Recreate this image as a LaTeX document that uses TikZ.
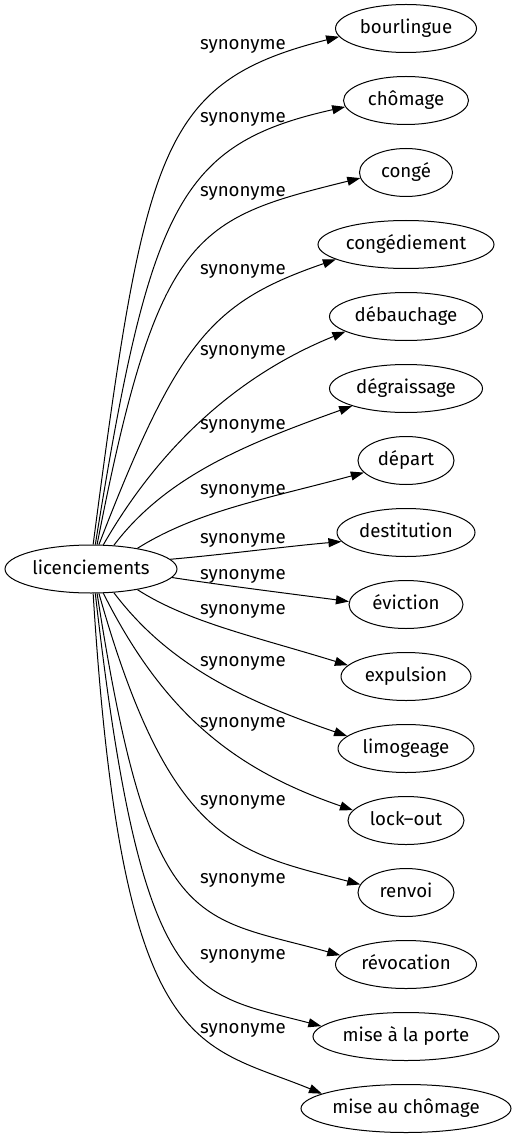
\documentclass[tikz,border=0pt]{standalone}
\usepackage{fontspec}
\setmainfont{Fira Sans}
\usetikzlibrary{shapes.geometric,arrows.meta}
\begin{document}
\begin{tikzpicture}[x=1pt,y=-1pt,
  ell/.style={draw,ellipse,line width=1pt,minimum height=48pt,inner sep=0pt,
    font=\fontsize{18.67pt}{22pt}\selectfont,text height=14pt,text depth=4pt},
  lbl/.style={inner sep=0pt,font=\fontsize{18.67pt}{22pt}\selectfont,text height=14pt,text depth=4pt},
  edge/.style={line width=1pt,-{Triangle[length=13pt,width=9pt]}}]
\useasboundingbox (0,0) rectangle (517,1139);
\node[ell,minimum width=172pt] (lic) at (91,569) {licenciements};
\node[ell,minimum width=141pt] (t1) at (406,28.5) {bourlingue};
\node[ell,minimum width=125pt] (t2) at (406,100.5) {chômage};
\node[ell,minimum width=93pt] (t3) at (406,172.5) {congé};
\node[ell,minimum width=176pt] (t4) at (406,244.5) {congédiement};
\node[ell,minimum width=153pt] (t5) at (406,316.5) {débauchage};
\node[ell,minimum width=153pt] (t6) at (406,388.5) {dégraissage};
\node[ell,minimum width=96pt] (t7) at (406,460.5) {départ};
\node[ell,minimum width=138pt] (t8) at (406,532.5) {destitution};
\node[ell,minimum width=114pt] (t9) at (406,604.5) {éviction};
\node[ell,minimum width=130pt] (t10) at (406,676.5) {expulsion};
\node[ell,minimum width=136pt] (t11) at (406,748.5) {limogeage};
\node[ell,minimum width=116pt] (t12) at (406,820.5) {lock–out};
\node[ell,minimum width=96pt] (t13) at (406,892.5) {renvoi};
\node[ell,minimum width=141pt] (t14) at (406,964.5) {révocation};
\node[ell,minimum width=186pt] (t15) at (406,1036.5) {mise à la porte};
\node[ell,minimum width=210pt] (t16) at (406,1108.5) {mise au chômage};
\foreach \i/\y in {1/45,2/118,3/192,4/270,5/350,6/424,7/489,8/538,9/574,10/609,11/661,12/722,13/800,14/878,15/954,16/1028}
  \node[lbl] (l\i) at (243,\y) {synonyme};
\draw[edge] (lic.85) .. controls (145,148) and (160,82) .. (t1.187);
\draw[edge] (lic.80) .. controls (150,205) and (179,144) .. (t2.186);
\draw[edge] (lic.76) .. controls (158,231) and (195,219) .. (t3.187);
\draw[edge] (lic.72) .. controls (178,340) and (212,302) .. (t4.192);
\draw[edge] (lic.63) .. controls (163,441) and (243,373) .. (t5.194);
\draw[edge] (lic.46) .. controls (167,475) and (249,443) .. (t6.198);
\draw[edge] (lic.24) .. controls (197,511) and (266,499) .. (t7.196);
\draw[edge] (lic.7) .. controls (220,555) and (290,546) .. (t8.188);
\draw[edge] (lic.-6) .. controls (220,585) and (300,595) .. (t9.177);
\draw[edge] (lic.-24) .. controls (188,622) and (253,636) .. (t10.169);
\draw[edge] (lic.-46) .. controls (167,663) and (239,699) .. (t11.168);
\draw[edge] (lic.-63) .. controls (166,718) and (239,771) .. (t12.169);
\draw[edge] (lic.-72) .. controls (170,845) and (237,852) .. (t13.170);
\draw[edge] (lic.-76) .. controls (150,935) and (195,915) .. (t14.172);
\draw[edge] (lic.-80) .. controls (142,1005) and (192,992) .. (t15.173);
\draw[edge] (lic.-85) .. controls (122,1060) and (196,1042) .. (t16.170);
\end{tikzpicture}
\end{document}
